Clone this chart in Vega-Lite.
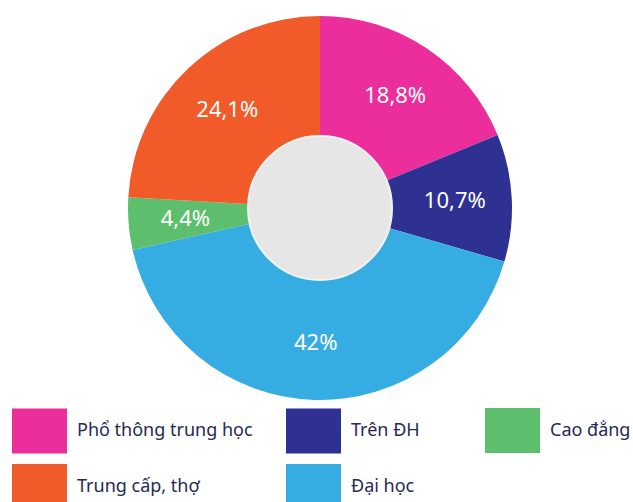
{
  "$schema": "https://vega.github.io/schema/vega-lite/v6.json",
  "width": 640,
  "height": 416,
  "autosize": "none",
  "padding": {"left": 0, "top": 0, "right": 0, "bottom": 86},
  "background": "white",
  "config": {
    "view": {"stroke": null},
    "legend": {
      "title": null,
      "orient": "none",
      "rowPadding": 5,
      "padding": 0,
      "symbolType": "M-1,-0.82H1V0.82H-1Z",
      "symbolSize": 3025,
      "symbolStrokeWidth": 0,
      "symbolOpacity": 1,
      "labelFont": "Noto Sans",
      "labelFontSize": 18,
      "labelColor": "#262a55",
      "labelOffset": 10,
      "labelLimit": 300
    }
  },
  "data": {
    "values": [
      {"cat": "Phổ thông trung học", "value": 18.8, "label": "18,8%", "k": 1},
      {"cat": "Trên ĐH", "value": 10.7, "label": "10,7%", "k": 2},
      {"cat": "Đại học", "value": 42, "label": "42%", "k": 3},
      {"cat": "Cao đẳng", "value": 4.4, "label": "4,4%", "k": 4},
      {"cat": "Trung cấp, thợ", "value": 24.1, "label": "24,1%", "k": 5}
    ]
  },
  "resolve": {"scale": {"color": "independent"}, "legend": {"color": "independent"}},
  "layer": [
    {
      "mark": {"type": "arc", "outerRadius": 192, "innerRadius": 0, "strokeWidth": 0},
      "encoding": {
        "theta": {"field": "value", "type": "quantitative", "stack": true},
        "order": {"field": "k", "type": "quantitative"},
        "color": {
          "field": "cat",
          "type": "nominal",
          "scale": {
            "domain": ["Phổ thông trung học", "Trung cấp, thợ", "Trên ĐH", "Đại học", "Cao đẳng"],
            "range": ["#ec2d9c", "#f15a29", "#2e3192", "#36ade2", "#5dbf6d"]
          },
          "legend": {
            "legendX": 12,
            "legendY": 403,
            "columns": 2,
            "columnPadding": 33,
            "values": ["Phổ thông trung học", "Trung cấp, thợ", "Trên ĐH", "Đại học"]
          }
        }
      }
    },
    {
      "mark": {"type": "arc", "outerRadius": 192, "innerRadius": 0, "strokeWidth": 0, "opacity": 0},
      "encoding": {
        "theta": {"field": "value", "type": "quantitative", "stack": true},
        "order": {"field": "k", "type": "quantitative"},
        "color": {
          "field": "cat",
          "type": "nominal",
          "scale": {
            "domain": ["Phổ thông trung học", "Trung cấp, thợ", "Trên ĐH", "Đại học", "Cao đẳng"],
            "range": ["#ec2d9c", "#f15a29", "#2e3192", "#36ade2", "#5dbf6d"]
          },
          "legend": {
            "legendX": 485,
            "legendY": 403,
            "columns": 1,
            "values": ["Cao đẳng"]
          }
        }
      }
    },
    {
      "data": {"values": [{}]},
      "mark": {"type": "arc", "theta": 0, "theta2": 6.2832, "outerRadius": 72, "innerRadius": 0, "fill": "#e6e6e6", "stroke": "#f2f2f2", "strokeWidth": 2},
      "encoding": {}
    },
    {
      "mark": {"type": "text", "radius": 135, "font": "Noto Sans", "fontSize": 22, "fill": "white"},
      "encoding": {
        "theta": {"field": "value", "type": "quantitative", "stack": true},
        "order": {"field": "k", "type": "quantitative"},
        "text": {"field": "label"}
      }
    }
  ]
}
